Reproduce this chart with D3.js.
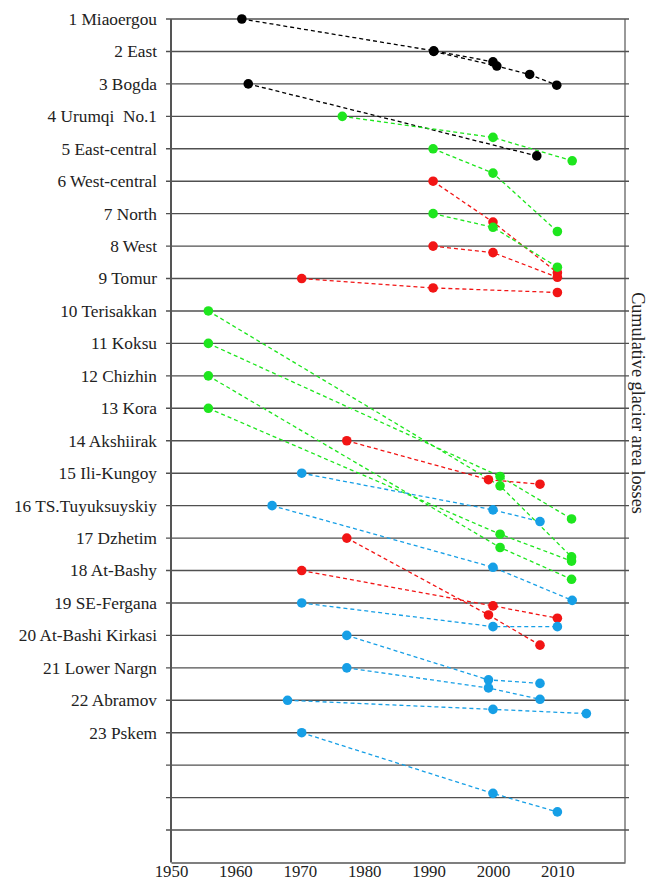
<!DOCTYPE html>
<html>
<head>
<meta charset="utf-8">
<script src="https://cdn.jsdelivr.net/npm/d3@7"></script>
<style>
  body { margin: 0; background: #fff; }
  svg text { font-family: "Liberation Serif", "Times New Roman", serif; fill: #222; }
</style>
</head>
<body>
<svg id="chart"></svg>
<script>
let width = 650,
    height = 881,
    svg = d3.select("#chart").attr("width", width).attr("height", height);

// glacier names, one row each (top to bottom)
const glaciers = ["1 Miaoergou", "2 East", "3 Bogda", "4 Urumqi  No.1", "5 East-central",
  "6 West-central", "7 North", "8 West", "9 Tomur", "10 Terisakkan", "11 Koksu",
  "12 Chizhin", "13 Kora", "14 Akshiirak", "15 Ili-Kungoy", "16 TS.Tuyuksuyskiy",
  "17 Dzhetim", "18 At-Bashy", "19 SE-Fergana", "20 At-Bashi Kirkasi",
  "21 Lower Nargn", "22 Abramov", "23 Pskem"];

// region group of each glacier
const groups = ["k", "k", "k", "g", "g", "r", "g", "r", "r", "g", "g", "g", "g",
  "r", "b", "b", "r", "r", "b", "b", "b", "b", "b"];

// survey years per glacier
const years = [
  [1961.0, 1990.8, 2000.0],
  [1990.8, 2000.6, 2005.7, 2009.9],
  [1962.0, 2006.8],
  [1976.6, 2000.0, 2012.3],
  [1990.7, 2000.0, 2010.0],
  [1990.7, 2000.0, 2010.0],
  [1990.7, 2000.0, 2010.0],
  [1990.7, 2000.0, 2010.0],
  [1970.3, 1990.7, 2010.0],
  [1955.8, 2001.1, 2012.2],
  [1955.8, 2001.1, 2012.2],
  [1955.8, 2001.1, 2012.2],
  [1955.8, 2001.1, 2012.2],
  [1977.3, 1999.3, 2007.3],
  [1970.3, 2000.0, 2007.3],
  [1965.7, 2000.0, 2012.3],
  [1977.3, 1999.3, 2007.3],
  [1970.3, 2000.0, 2010.0],
  [1970.3, 2000.0, 2010.0],
  [1977.3, 1999.3, 2007.3],
  [1977.3, 1999.3, 2007.3],
  [1968.1, 2000.0, 2014.5],
  [1970.3, 2000.0, 2010.0]
];

// cumulative area loss (in row units below each glacier's line)
const losses = [
  [0, 0.98, 1.32],
  [0, 0.45, 0.71, 1.04],
  [0, 2.22],
  [0, 0.65, 1.37],
  [0, 0.75, 2.55],
  [0, 1.26, 2.82],
  [0, 0.42, 1.65],
  [0, 0.20, 0.96],
  [0, 0.29, 0.43],
  [0, 5.39, 7.58],
  [0, 4.10, 5.41],
  [0, 5.29, 6.27],
  [0, 3.88, 4.71],
  [0, 1.20, 1.34],
  [0, 1.13, 1.49],
  [0, 1.90, 2.92],
  [0, 2.37, 3.30],
  [0, 1.09, 1.47],
  [0, 0.73, 0.73],
  [0, 1.37, 1.48],
  [0, 0.62, 0.97],
  [0, 0.28, 0.41],
  [0, 1.87, 2.44]
];

const yearTicks = [1950, 1960, 1970, 1980, 1990, 2000, 2010];
const nRows = 26; // gridlines incl. 3 empty rows below Pskem

const colors = { k: "#000000", g: "#1ee61e", r: "#f21515", b: "#169fe6" };

const x = d3.scaleLinear().domain([1950, 2020.5]).range([171, 625]);
const y = d3.scaleLinear().domain([0, nRows]).range([19, 862.5]);

// gridlines
svg.append("g")
    .selectAll("line")
    .data(d3.range(nRows))
    .enter()
    .append("line")
    .attr("x1", 166)
    .attr("x2", 629)
    .attr("y1", d => y(d))
    .attr("y2", d => y(d))
    .attr("stroke", "#505050")
    .attr("stroke-width", 1.4);

// frame: left axis, right border, bottom axis
svg.append("line")
    .attr("x1", x(1950)).attr("x2", x(1950))
    .attr("y1", y(0)).attr("y2", y(nRows))
    .attr("stroke", "#555").attr("stroke-width", 2);
svg.append("line")
    .attr("x1", x.range()[1]).attr("x2", x.range()[1])
    .attr("y1", y(0)).attr("y2", y(nRows))
    .attr("stroke", "#555").attr("stroke-width", 1.2);

let xAxis = svg.append("g")
    .attr("transform", `translate(0,${y(nRows)})`)
    .call(d3.axisBottom(x).tickValues(yearTicks).tickFormat(d3.format("d")).tickSize(0));
xAxis.select(".domain").attr("stroke", "#555").attr("stroke-width", 1.5);
xAxis.selectAll("text")
    .attr("y", 14.5)
    .attr("dy", null)
    .attr("fill", "#222")
    .style("font-size", "16.8px")
    .style("font-family", "'Liberation Serif', 'Times New Roman', serif");

// row labels
svg.append("g")
    .selectAll("text")
    .data(glaciers)
    .enter()
    .append("text")
    .attr("x", 157)
    .attr("y", (d, i) => y(i))
    .attr("dy", "0.34em")
    .attr("text-anchor", "end")
    .style("font-size", "17.3px")
    .style("white-space", "pre")
    .text(d => d);

// right-hand title
svg.append("text")
    .attr("transform", "translate(632,403) rotate(90)")
    .attr("text-anchor", "middle")
    .style("font-size", "18.2px")
    .text("Cumulative glacier area losses");

// series: dashed lines then dots
const series = glaciers.map((name, i) => ({
    name: name,
    color: colors[groups[i]],
    pts: years[i].map((yr, j) => [yr, i + losses[i][j]])
}));

const line = d3.line().x(d => x(d[0])).y(d => y(d[1]));

series.forEach(s => {
    svg.append("path")
        .datum(s.pts)
        .attr("d", line)
        .attr("fill", "none")
        .attr("stroke", s.color)
        .attr("stroke-width", 1.3)
        .attr("stroke-dasharray", "4,3");
});

series.forEach(s => {
    svg.append("g")
        .selectAll("circle")
        .data(s.pts)
        .enter()
        .append("circle")
        .attr("cx", d => x(d[0]))
        .attr("cy", d => y(d[1]))
        .attr("r", 4.8)
        .attr("fill", s.color);
});
</script>
</body>
</html>
